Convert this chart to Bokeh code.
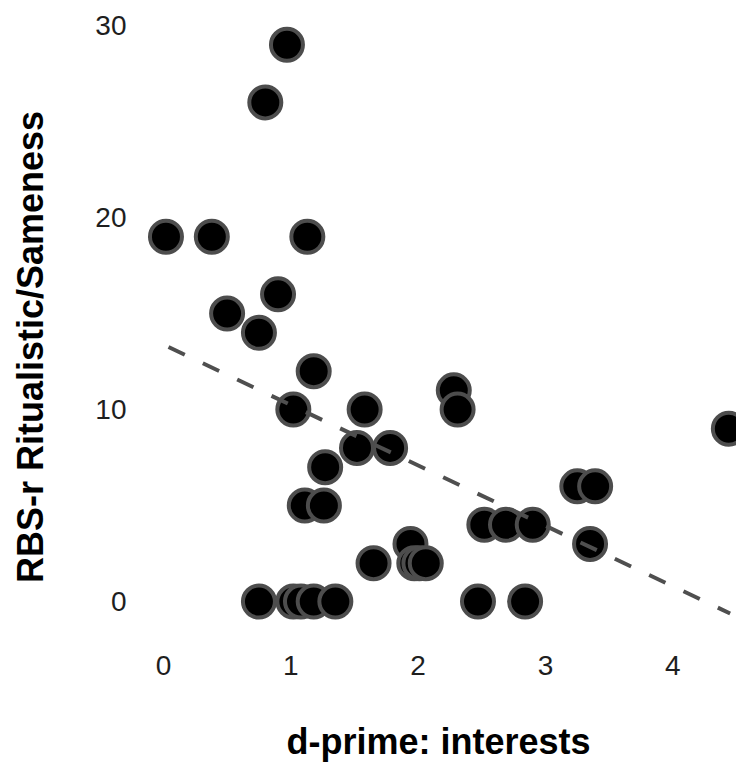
import math
from bokeh.plotting import figure
from bokeh.layouts import row
from bokeh.models import Range1d, FixedTicker, ColumnDataSource
from bokeh.core.properties import value
from bokeh.embed import file_html
from bokeh.resources import INLINE

# data
dprime = [0.02, 0.38, 1.13, 0.97, 0.80, 0.50, 0.90, 0.75, 1.18, 1.02, 1.58, 1.52,
          1.78, 1.27, 1.11, 1.26, 1.65, 0.75, 1.02, 1.08, 1.18, 1.35, 2.28, 2.31,
          4.44, 3.25, 3.39, 2.52, 2.69, 2.90, 3.35, 1.94, 1.97, 2.01, 2.06, 2.47, 2.84]
rbs = [19, 19, 19, 29, 26, 15, 16, 14, 12, 10, 10, 8,
       8, 7, 5, 5, 2, 0, 0, 0, 0, 0, 11, 10,
       9, 6, 6, 4, 4, 4, 3, 3, 2, 2, 2, 0, 0]
fit_x = [0.04, 4.45]
fit_y = [13.26, -0.62]
x_ticks = [0, 1, 2, 3, 4]
y_ticks = [0, 10, 20, 30]
x_title = "d-prime: interests"
y_title = "RBS-r  Ritualistic/Sameness"

FONT = "Liberation Sans"
H = 764
LAB_W = 60

p = figure(width=736 - LAB_W, height=H,
           x_range=Range1d(-0.18, 4.50), y_range=Range1d(-1.456, 30.89),
           output_backend="svg", toolbar_location=None,
           min_border_left=140 - LAB_W, min_border_right=0,
           min_border_top=8, min_border_bottom=134)

p.background_fill_color = "white"
p.border_fill_color = "white"
p.outline_line_color = None
p.xgrid.visible = False
p.ygrid.visible = False

src = ColumnDataSource(dict(x=dprime, y=rbs))
p.scatter("x", "y", source=src, size=32, fill_color="black",
          line_color="#4d4d4d", line_width=4)

p.line(fit_x, fit_y, line_color="#4f4f4f", line_width=4, line_dash="18 20")

for ax in (p.xaxis[0], p.yaxis[0]):
    ax.axis_line_color = None
    ax.major_tick_line_color = None
    ax.minor_tick_line_color = None
    ax.major_tick_out = 0
    ax.major_tick_in = 0
    ax.minor_tick_out = 0
    ax.major_label_text_font = FONT
    ax.major_label_text_font_size = "28px"
    ax.major_label_text_color = "#1e1e1e"

p.xaxis.ticker = FixedTicker(ticks=x_ticks)
p.yaxis.ticker = FixedTicker(ticks=y_ticks)
p.xaxis.major_label_standoff = 26
p.yaxis.major_label_standoff = 14

p.xaxis.axis_label = x_title
p.xaxis.axis_label_text_font = FONT
p.xaxis.axis_label_text_font_size = "36px"
p.xaxis.axis_label_text_font_style = "bold"
p.xaxis.axis_label_text_color = "black"
p.xaxis.axis_label_standoff = 43

# narrow strip on the left that carries the y-axis title, sharing the y scale
lab = figure(width=LAB_W, height=H, x_range=Range1d(0, LAB_W), y_range=p.y_range,
             output_backend="svg", toolbar_location=None,
             min_border_left=0, min_border_right=0,
             min_border_top=8, min_border_bottom=134)
lab.outline_line_color = None
lab.background_fill_color = "white"
lab.border_fill_color = "white"
lab.xgrid.visible = False
lab.ygrid.visible = False
lab.xaxis.visible = False
lab.yaxis.visible = False
lab.text(x=[30], y=[13.52], text=[y_title], angle=math.pi / 2,
         text_align="center", text_baseline="middle",
         text_font=value(FONT), text_font_size="36px",
         text_font_style="bold", text_color="black")

layout = row(lab, p)
open("out.html", "w").write(file_html(layout, INLINE))
